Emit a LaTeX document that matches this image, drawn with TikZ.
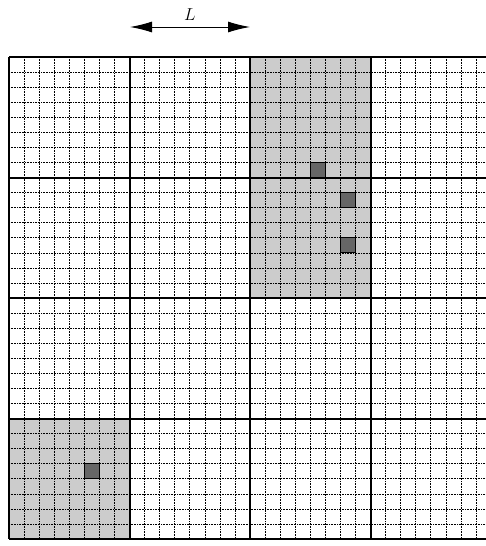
\documentclass[tikz,border=0pt]{standalone}
\usetikzlibrary{arrows.meta}
\begin{document}
\begin{tikzpicture}[x=1pt,y=-1pt,
  thick grid/.style={line width=2pt},
  fine grid/.style={line width=0.6pt, densely dotted},
  shadecell/.style={fill=black!20},
  darkcell/.style={fill=black!60, draw=black, line width=0.8pt},
  arr/.style={{Latex[length=22pt,width=11pt]}-{Latex[length=22pt,width=11pt]}, line width=1pt}]
\useasboundingbox (0,0) rectangle (486,546);
\clip (0,0) rectangle (486,546);
\def\cs{120.5}
\def\fs{15.0625}
% shaded cells
\fill[shadecell] (9+2*\cs,57) rectangle (9+3*\cs,57+2*\cs);
\fill[shadecell] (9,57+3*\cs) rectangle (9+\cs,57+4*\cs);
% fine grid
\foreach \i in {1,...,40} {
  \draw[fine grid] (9+\i*\fs,57) -- (9+\i*\fs,57+4*\cs);
}
\foreach \j in {1,...,31} {
  \draw[fine grid] (9,57+\j*\fs) -- (9+4*\cs,57+\j*\fs);
}
% dark sub-cells
\draw[darkcell] (9+2*\cs+4*\fs,57+7*\fs) rectangle ++(\fs,\fs);
\draw[darkcell] (9+2*\cs+6*\fs,57+\cs+1*\fs) rectangle ++(\fs,\fs);
\draw[darkcell] (9+2*\cs+6*\fs,57+\cs+4*\fs) rectangle ++(\fs,\fs);
\draw[darkcell] (9+5*\fs,57+3*\cs+3*\fs) rectangle ++(\fs,\fs);
% thick grid
\foreach \i in {0,...,4} {
  \draw[thick grid] (9+\i*\cs,57) -- (9+\i*\cs,57+4*\cs);
  \draw[thick grid] (9,57+\i*\cs) -- (9+4*\cs,57+\i*\cs);
}
% L arrow
\coordinate (la) at (130,27);
\coordinate (lb) at (250,27);
\draw[arr] (la) -- (lb) node[midway, above=3pt, font=\fontsize{19}{22}\selectfont] (lab) {$L$};
\end{tikzpicture}
\end{document}
